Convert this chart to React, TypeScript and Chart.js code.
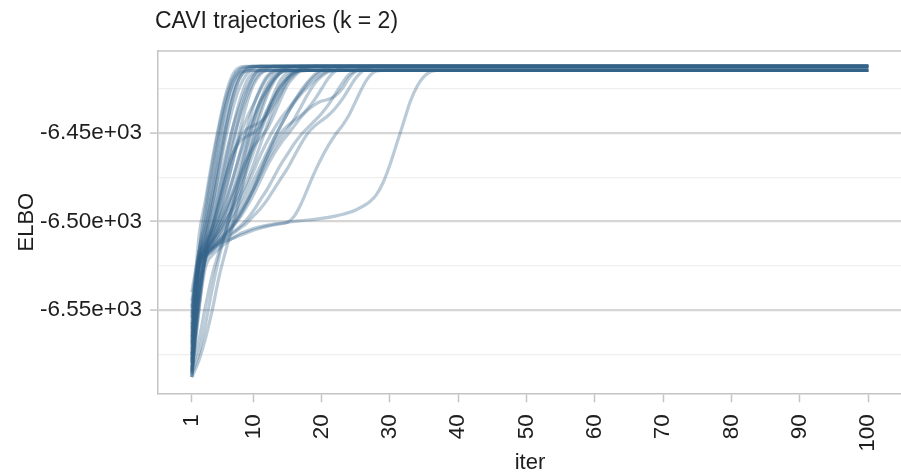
import { useEffect, useRef } from 'react';
import { Chart, registerables } from 'chart.js';

Chart.register(...registerables);

const TITLE = 'CAVI trajectories (k = 2)';
const X_TITLE = 'iter';
const Y_TITLE = 'ELBO';
const LAST_ITER = 100;

const xTicks = [1, 10, 20, 30, 40, 50, 60, 70, 80, 90, 100];
const yMajorTicks = [-6550, -6500, -6450];
const yMajorLabels = ['-6.55e+03', '-6.50e+03', '-6.45e+03'];
const yMinorTicks = [-6575, -6525, -6475, -6425];

// ELBO per iteration for each CAVI restart, listed until the run stops moving.
const run01 = [-6560, -6510, -6488, -6465, -6445, -6428, -6417, -6413, -6412.4];
const run02 = [-6575, -6520, -6492, -6468, -6447, -6430, -6419, -6414, -6412.6, -6412.4];
const run03 = [-6545, -6518, -6500, -6478, -6455, -6435, -6421, -6415, -6413, -6412.4];
const run04 = [-6582, -6530, -6505, -6484, -6462, -6442, -6426, -6417, -6414, -6412.5, -6412.4];
const run05 = [-6568, -6524, -6510, -6492, -6470, -6448, -6430, -6419, -6415, -6414.6];
const run06 = [-6585, -6538, -6514, -6500, -6483, -6465, -6447, -6432, -6421, -6416, -6414.8, -6414.6];
const run07 = [-6552, -6521, -6512, -6503, -6490, -6474, -6457, -6440, -6427, -6418, -6414, -6412.8, -6412.4];
const run08 = [-6578, -6525, -6516, -6507, -6496, -6482, -6466, -6449, -6434, -6423, -6417, -6414, -6412.8, -6412.4];
const run09 = [-6588, -6545, -6519, -6510, -6500, -6489, -6476, -6462, -6448, -6435, -6425, -6418, -6415, -6414.7, -6414.6];
const run10 = [-6563, -6523, -6513, -6506, -6498, -6488, -6476, -6463, -6451, -6441, -6432, -6425, -6419, -6415, -6413, -6412.5, -6412.4];
const run11 = [-6580, -6534, -6515, -6504, -6490, -6475, -6462, -6455, -6452, -6450, -6446, -6438, -6428, -6420, -6416, -6414.8, -6414.6];
const run12 = [-6548, -6522, -6516, -6510, -6503, -6495, -6486, -6476, -6466, -6455, -6446, -6437, -6430, -6423, -6418, -6415, -6413, -6412.4];
const run13 = [-6586, -6540, -6519, -6513, -6507, -6500, -6492, -6483, -6472, -6461, -6450, -6440, -6431, -6424, -6419, -6415.5, -6414.7, -6414.6];
const run14 = [-6570, -6526, -6517, -6511, -6505, -6499, -6493, -6486, -6478, -6468, -6457, -6446, -6436, -6428, -6421, -6417, -6414, -6412.8, -6412.4];
const run15 = [-6558, -6524, -6515, -6508, -6501, -6493, -6484, -6474, -6465, -6458, -6453, -6448, -6440, -6431, -6423, -6418, -6415, -6414.6];
const run16 = [-6584, -6548, -6520, -6514, -6509, -6504, -6498, -6492, -6485, -6477, -6469, -6461, -6453, -6446, -6439, -6432, -6426, -6421, -6417, -6414.5, -6413, -6412.4];
const run17 = [-6575, -6527, -6519, -6514, -6510, -6506, -6501, -6495, -6489, -6482, -6474, -6466, -6459, -6453, -6448, -6442, -6435, -6428, -6422, -6418, -6415.5, -6414.8, -6414.6];
const run18 = [-6588, -6552, -6521, -6515, -6511, -6507, -6503, -6498, -6492, -6485, -6477, -6469, -6462, -6456, -6451, -6446, -6441, -6437, -6434, -6432, -6431, -6429, -6425, -6419, -6415, -6413, -6412.4];
const run19 = [-6566, -6526, -6519, -6515, -6512, -6509, -6506, -6503, -6499, -6494, -6488, -6482, -6475, -6468, -6462, -6456, -6451, -6447, -6443, -6439, -6434, -6428, -6422, -6417, -6415, -6414.6];
const run20 = [-6580, -6544, -6522, -6517, -6513, -6510, -6507, -6504, -6501, -6497, -6493, -6488, -6482, -6476, -6470, -6463, -6456, -6450, -6446, -6443, -6440, -6436, -6431, -6425, -6419, -6415, -6413, -6412.4];
const run21 = [-6585, -6550, -6526, -6519, -6515.5, -6512, -6509.5, -6507, -6505.5, -6504, -6503, -6502.2, -6501.5, -6501, -6500.5, -6500, -6499.6, -6499.2, -6498.8, -6498.3, -6497.7, -6497, -6496.1, -6495, -6493.5, -6491.5, -6489, -6485, -6478, -6468, -6456, -6444, -6432, -6423.5, -6418, -6415.3, -6414.6];
const run22 = [-6578, -6540, -6521, -6516, -6513, -6511, -6509.5, -6508, -6506.5, -6505, -6503.8, -6502.8, -6502, -6501.3, -6500.5, -6497, -6490, -6481, -6472, -6464, -6457, -6451, -6446, -6440, -6432, -6424, -6418, -6415, -6414.6];
const run23 = [-6555, -6519, -6497, -6474, -6452, -6434, -6422, -6416, -6414.9, -6414.6];
const run24 = [-6572, -6523, -6508, -6490, -6471, -6452, -6436, -6424, -6417, -6413.5, -6412.4];
const run25 = [-6587, -6535, -6517, -6503, -6487, -6470, -6454, -6441, -6430, -6421, -6416, -6414.8, -6414.6];
const run26 = [-6561, -6525, -6515, -6506, -6495, -6481, -6466, -6452, -6442, -6434, -6426, -6419, -6415, -6413, -6412.4];
const run27 = [-6583, -6542, -6518, -6511, -6503, -6494, -6483, -6470, -6456, -6443, -6433, -6426, -6420, -6416, -6414.8, -6414.6];
const run28 = [-6549, -6523, -6517, -6511, -6505, -6498, -6490, -6480, -6469, -6458, -6448, -6439, -6431, -6424, -6419, -6416, -6414, -6412.8, -6412.4];
const run29 = [-6576, -6526, -6514, -6502, -6488, -6474, -6462, -6453, -6448, -6446, -6444, -6440, -6434, -6427, -6420, -6416, -6414.8, -6414.6];
const run30 = [-6586, -6575, -6558, -6538, -6520, -6505, -6490, -6474, -6458, -6444, -6432, -6423, -6417, -6414, -6412.8, -6412.4];
const run31 = [-6565, -6525, -6518, -6512, -6507, -6502, -6496, -6489, -6481, -6472, -6463, -6455, -6448, -6442, -6437, -6432, -6427, -6422, -6418, -6415.3, -6414.7, -6414.6];
const run32 = [-6540, -6518, -6504, -6486, -6465, -6446, -6430, -6419, -6414, -6412.6, -6412.4];
const run33 = [-6579, -6546, -6520, -6515, -6511, -6507, -6502, -6496, -6489, -6481, -6472, -6463, -6454, -6446, -6439, -6433, -6428, -6424, -6420, -6417, -6415, -6414.7, -6414.6];
const run34 = [-6569, -6527, -6520, -6516, -6512, -6508, -6503, -6497, -6490, -6482, -6473, -6464, -6456, -6450, -6446, -6443, -6440, -6436, -6431, -6425, -6419, -6415, -6413, -6412.4];
const run35 = [-6554, -6521, -6509, -6495, -6479, -6462, -6447, -6435, -6425, -6418, -6414, -6412.7, -6412.4];
const run36 = [-6588, -6579, -6566, -6550, -6531, -6516, -6502, -6487, -6470, -6454, -6440, -6429, -6421, -6416, -6414.8, -6414.6];
const run37 = [-6584, -6568, -6548, -6530, -6517, -6505, -6492, -6478, -6463, -6449, -6437, -6427, -6420, -6416, -6413.5, -6412.6, -6412.4];

const runs = [
  run01, run02, run03, run04, run05, run06, run07, run08, run09, run10,
  run11, run12, run13, run14, run15, run16, run17, run18, run19, run20,
  run21, run22, run23, run24, run25, run26, run27, run28, run29, run30,
  run31, run32, run33, run34, run35, run36, run37,
];

const LINE_COLOR = 'rgba(54, 100, 139, 0.34)';
const TEXT_COLOR = '#1e1e1e';
const FONT_FAMILY = '"Liberation Sans", Arial, sans-serif';
const AXIS_GREY = '#c4c4c4';

const W = 910;
const H = 476;
const PLOT_LEFT = 158;
const PLOT_TOP = 51;
const PLOT_RIGHT = 902;
const PLOT_BOTTOM = 393.3;

// Title plus the top edge of the panel frame.
const framePlugin = {
  id: 'frame',
  beforeDatasetsDraw(chart: Chart) {
    const { ctx, chartArea } = chart;
    ctx.save();
    ctx.strokeStyle = AXIS_GREY;
    ctx.lineWidth = 1.5;
    ctx.beginPath();
    ctx.moveTo(chartArea.left, chartArea.top);
    ctx.lineTo(chartArea.right + 10, chartArea.top);
    ctx.stroke();
    ctx.restore();
  },
  afterDraw(chart: Chart) {
    const { ctx } = chart;
    ctx.save();
    ctx.fillStyle = TEXT_COLOR;
    ctx.font = `23px ${FONT_FAMILY}`;
    ctx.textAlign = 'left';
    ctx.textBaseline = 'alphabetic';
    ctx.fillText(TITLE, 155, 28);
    ctx.restore();
  },
};

export default function App() {
  const ref = useRef<HTMLCanvasElement | null>(null);

  useEffect(() => {
    if (!ref.current) return;
    const datasets = runs.map((run) => ({
      data: [
        ...run.map((v, i) => ({ x: i + 1, y: v })),
        { x: LAST_ITER, y: run[run.length - 1] },
      ],
      borderColor: LINE_COLOR,
      borderWidth: 3.2,
      pointRadius: 0,
      fill: false,
      cubicInterpolationMode: 'monotone' as const,
    }));

    const chart = new Chart(ref.current, {
      type: 'line',
      data: { datasets },
      plugins: [framePlugin],
      options: {
        animation: false,
        responsive: false,
        events: [],
        layout: { padding: { top: PLOT_TOP, right: W - PLOT_RIGHT, left: 0, bottom: 0 } },
        plugins: { legend: { display: false }, tooltip: { enabled: false }, title: { display: false } },
        scales: {
          x: {
            type: 'linear',
            min: -3.95,
            max: 104.95,
            afterBuildTicks: (scale: any) => {
              scale.ticks = xTicks.map((v) => ({ value: v }));
            },
            afterFit: (scale: any) => {
              scale.height = H - PLOT_BOTTOM;
            },
            ticks: {
              autoSkip: false,
              minRotation: 90,
              maxRotation: 90,
              padding: 12,
              color: TEXT_COLOR,
              font: { size: 22.5, family: FONT_FAMILY },
              callback: (v: any) => String(v),
            },
            grid: {
              drawOnChartArea: false,
              drawTicks: true,
              tickLength: 9,
              tickColor: AXIS_GREY,
              tickWidth: 1.5,
            },
            border: { display: true, color: AXIS_GREY, width: 1.5 },
            title: {
              display: true,
              text: X_TITLE,
              color: TEXT_COLOR,
              font: { size: 22, family: FONT_FAMILY, lineHeight: 1.2 },
              padding: { top: 0, bottom: 0 },
            },
          },
          y: {
            type: 'linear',
            min: -6597.1,
            max: -6403.7,
            afterBuildTicks: (scale: any) => {
              scale.ticks = [...yMinorTicks, ...yMajorTicks]
                .sort((a, b) => a - b)
                .map((v) => ({ value: v }));
            },
            afterFit: (scale: any) => {
              scale.width = PLOT_LEFT;
            },
            ticks: {
              padding: 8,
              color: TEXT_COLOR,
              font: { size: 22.5, family: FONT_FAMILY },
              callback: (v: any) => {
                const idx = yMajorTicks.indexOf(Number(v));
                return idx >= 0 ? yMajorLabels[idx] : '';
              },
            },
            grid: {
              drawOnChartArea: true,
              drawTicks: true,
              tickLength: 8,
              color: (c: any) => (yMajorTicks.includes(c.tick?.value) ? '#d6d6d6' : '#efefef'),
              lineWidth: (c: any) => (yMajorTicks.includes(c.tick?.value) ? 2.2 : 1.2),
              tickColor: (c: any) => (yMajorTicks.includes(c.tick?.value) ? AXIS_GREY : 'rgba(0,0,0,0)'),
              tickWidth: 1.5,
            },
            border: { display: true, color: AXIS_GREY, width: 1.5 },
            title: {
              display: true,
              text: Y_TITLE,
              color: TEXT_COLOR,
              font: { size: 22, family: FONT_FAMILY, lineHeight: 1.2 },
              padding: { top: 14, bottom: 0 },
            },
          },
        },
      },
    });
    return () => chart.destroy();
  }, []);

  return (
    <div style={{ position: 'fixed', left: 0, top: 0, width: 901, height: 476, overflow: 'hidden', background: '#fff' }}>
      <canvas ref={ref} width={W} height={H} style={{ display: 'block' }} />
    </div>
  );
}
